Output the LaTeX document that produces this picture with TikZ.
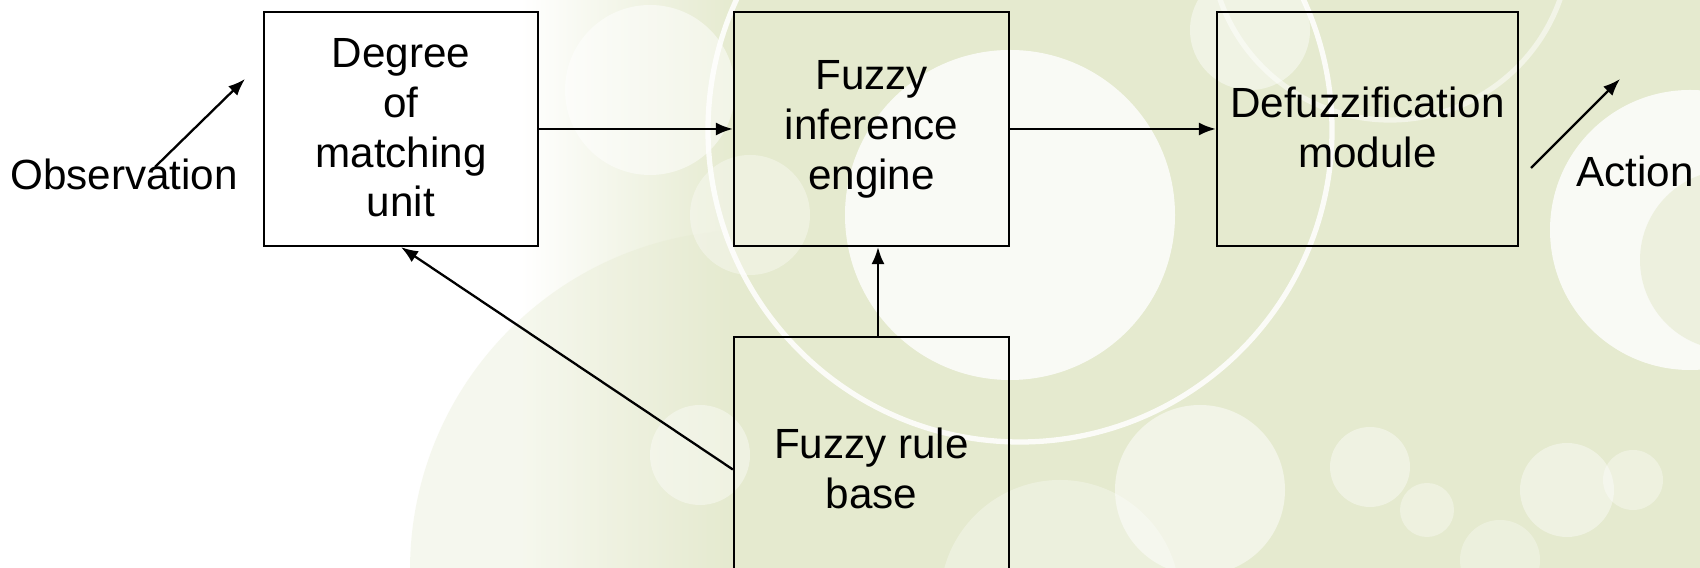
\documentclass[tikz,border=0pt]{standalone}
\usepackage{fontspec}
\setmainfont{Liberation Sans}
\usetikzlibrary{arrows.meta}
\definecolor{paleg}{RGB}{229,234,207}
% uniform line box for the block texts
\newcommand\linestrut{\rule[-0.8pt]{0pt}{14.2pt}}
\begin{document}
\begin{tikzpicture}[x=0.01cm,y=-0.01cm,
  txt/.style={font=\fontsize{12}{14.2}\selectfont},
  block/.style={txt, draw=black, line width=0.6pt, minimum height=2.34cm,
    inner sep=0pt, align=center,
    execute at begin node=\linestrut, execute at end node=\linestrut},
  arr/.style={line width=0.65pt, -{Latex[length=0.17cm,width=0.13cm]}},
  ring/.style={draw=white, line width=1.5pt, opacity=#1},
  bubble/.style={fill=white, opacity=#1}]
\useasboundingbox (0,0) rectangle (1700,568);
% backdrop: pale green field with soft white bubbles
\begin{scope}
  \clip (0,0) rectangle (1700,568);
  \fill[white] (0,0) rectangle (1700,568);
  \shade[left color=white, right color=paleg] (520,0) rectangle (735,568);
  \fill[paleg] (734,0) rectangle (1700,568);
  \fill[paleg, opacity=0.35] (750,570) circle (340);
  % bubbles
  \fill[bubble=0.8] (1010,215) circle (165);
  \fill[bubble=0.5] (650,90) circle (85);
  \fill[bubble=0.35] (750,215) circle (60);
  \fill[bubble=0.4] (700,455) circle (50);
  \fill[bubble=0.5] (1200,490) circle (85);
  \fill[bubble=0.4] (1370,467) circle (40);
  \fill[bubble=0.35] (1427,510) circle (27);
  \fill[bubble=0.4] (1567,490) circle (47);
  \fill[bubble=0.35] (1633,480) circle (30);
  \fill[bubble=0.3] (1500,560) circle (40);
  \fill[bubble=0.3] (1060,600) circle (120);
  \fill[bubble=0.45] (1250,30) circle (60);
  \fill[bubble=0.8] (1690,230) circle (140);
  \fill[paleg, opacity=0.6] (1730,260) circle (90);
  % thin rings
  \draw[ring=0.85] (1020,130) circle (312);
  \draw[ring=0.5] (1390,-60) circle (180);
\end{scope}
% blocks
\node[block, minimum width=2.74cm] (dm) at (401,129) {Degree\\of\\matching\\unit};
\node[block, minimum width=2.75cm] (fie) at (871.5,129) {Fuzzy\\inference\\engine};
\node[block, minimum width=3.01cm] (dfz) at (1367.5,129) {Defuzzification\\module};
\node[block, minimum width=2.75cm, minimum height=2.65cm] (rb) at (871.5,469.5) {Fuzzy rule\\base};
% input and output labels
\node[txt, anchor=base] (obs) at (124,190) {Observation};
\node[txt, anchor=base] (act) at (1635,187) {Action};
\coordinate (obsA) at (155,167);
\coordinate (obsB) at (245,79);
\coordinate (actA) at (1531,168);
\coordinate (actB) at (1620,79);
% connectors
\draw[arr] (obsA) -- (obsB);
\draw[arr] (dm.east) -- (fie.west);
\draw[arr] (fie.east) -- (dfz.west);
\draw[arr] ([xshift=0.065cm]rb.north) -- ([xshift=0.065cm]fie.south);
\draw[arr] (rb.west) -- (dm.south);
\draw[arr] (actA) -- (actB);
\end{tikzpicture}
\end{document}
